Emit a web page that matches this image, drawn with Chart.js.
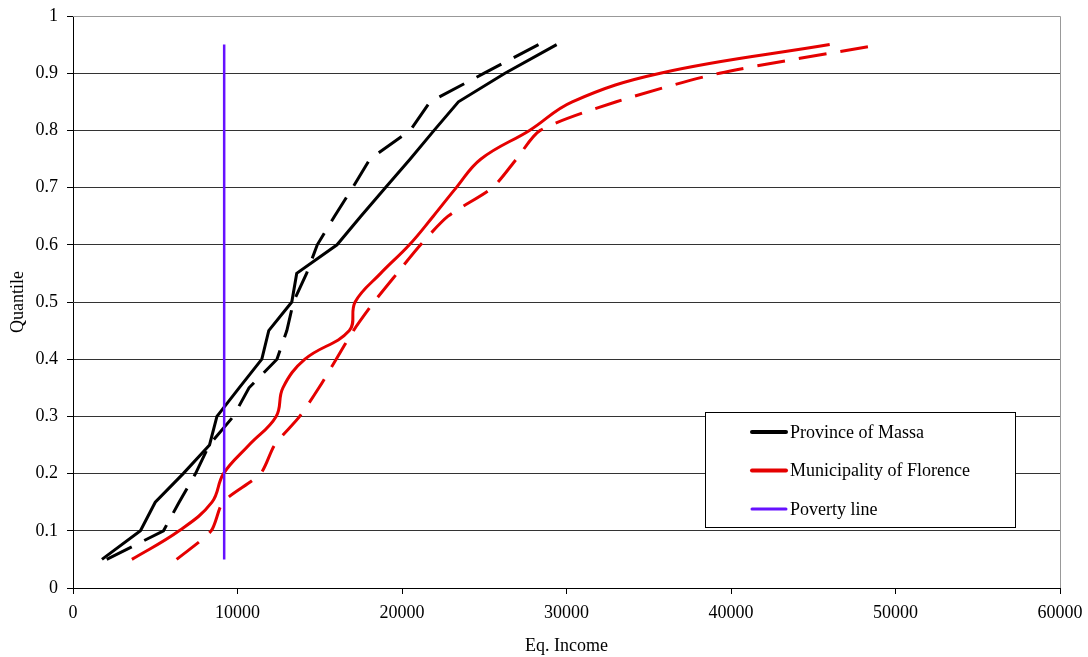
<!DOCTYPE html>
<html>
<head>
<meta charset="utf-8">
<script src="https://cdn.jsdelivr.net/npm/chart.js@4.4.1/dist/chart.umd.min.js"></script>
<style>
  html, body { margin: 0; padding: 0; background: #fff; }
  #wrap { width: 1088px; height: 657px; }
</style>
</head>
<body>
<div id="wrap"><canvas id="chart" width="1088" height="657"></canvas></div>
<script>
// quantile levels (y) shared by all four curves
const quantiles = [0.05, 0.10, 0.15, 0.20, 0.25, 0.30, 0.35, 0.40, 0.45, 0.50,
                   0.55, 0.60, 0.65, 0.70, 0.75, 0.80, 0.85, 0.90, 0.95];

// equivalent income at each quantile
const massaSolid     = [1760, 4100, 5000, 6700, 8300, 8750, 10100, 11480, 11900, 13300,
                        13600, 16050, 17500, 19000, 20500, 21950, 23430, 26260, 29400];
const massaDashed    = [2050, 5500, 6450, 7450, 8280, 9750, 10700, 12400, 13000, 13400,
                        14200, 14850, 15900, 17000, 18050, 20500, 21700, 25000, 28300];
const florenceSolid  = [3580, 6450, 8450, 9150, 10700, 12350, 12760, 14100, 16800, 17150,
                        18700, 20450, 21900, 23300, 24800, 27750, 30350, 35700, 46000];
const florenceDashed = [6300, 8400, 9120, 11400, 12260, 13780, 14950, 16000, 17050, 18300,
                        19700, 21130, 22800, 25500, 26960, 28400, 33030, 39300, 49100];

const povertyIncome = [9190, 9190];
const povertyQuant  = [0.05, 0.95];

const legendLabels = ['Province of Massa', 'Municipality of Florence', 'Poverty line'];
const legendColors = ['#000000', '#e50000', '#6611ff'];

const FONT = '"Liberation Serif", "Times New Roman", serif';
const FSIZE = 18;

function toPoints(xs, ys) {
    return xs.map((x, i) => ({ x: x, y: ys[i] }));
}

// drop the label overhang so layout padding alone sets the plot box
function noOverhang(scale) {
    scale.paddingTop = 0;
    scale.paddingBottom = 0;
    scale.paddingLeft = 0;
    scale.paddingRight = 0;
}

// plot frame (grey top/right) and the boxed legend inside the plot
const frameAndLegend = {
    id: 'frameAndLegend',
    afterDatasetsDraw(chart) {
        const ctx = chart.ctx;
        const a = chart.chartArea;
        ctx.save();
        ctx.strokeStyle = '#999';
        ctx.lineWidth = 1;
        ctx.beginPath();
        ctx.moveTo(a.left, Math.round(a.top) + 0.5);
        ctx.lineTo(Math.round(a.right) + 0.5, Math.round(a.top) + 0.5);
        ctx.lineTo(Math.round(a.right) + 0.5, a.bottom);
        ctx.stroke();

        const bx = 705.5, by = 412.5, bw = 310, bh = 115;
        ctx.fillStyle = '#fff';
        ctx.fillRect(bx, by, bw, bh);
        ctx.strokeStyle = '#000';
        ctx.lineWidth = 1;
        ctx.strokeRect(bx, by, bw, bh);

        ctx.font = FSIZE + 'px ' + FONT;
        ctx.textBaseline = 'middle';
        ctx.textAlign = 'left';
        legendLabels.forEach((t, i) => {
            const y = 432 + i * 38.5;
            ctx.strokeStyle = legendColors[i];
            ctx.lineWidth = i === 2 ? 3 : 4;
            ctx.lineCap = 'round';
            ctx.beginPath();
            ctx.moveTo(752, y);
            ctx.lineTo(786, y);
            ctx.stroke();
            ctx.fillStyle = '#000';
            ctx.fillText(t, 790, y + 1);
        });
        ctx.restore();
    }
};

const lineBase = { showLine: true, pointRadius: 0, pointHoverRadius: 0, fill: false };

new Chart(document.getElementById('chart'), {
    type: 'scatter',
    data: {
        datasets: [
            Object.assign({}, lineBase, {
                label: 'Poverty line',
                data: toPoints(povertyIncome, povertyQuant),
                borderColor: '#6611ff', borderWidth: 2.5
            }),
            Object.assign({}, lineBase, {
                label: 'Province of Massa',
                data: toPoints(massaSolid, quantiles),
                borderColor: '#000', borderWidth: 3, tension: 0
            }),
            Object.assign({}, lineBase, {
                label: 'Province of Massa (dashed)',
                data: toPoints(massaDashed, quantiles),
                borderColor: '#000', borderWidth: 3, borderDash: [28, 14], tension: 0
            }),
            Object.assign({}, lineBase, {
                label: 'Municipality of Florence',
                data: toPoints(florenceSolid, quantiles),
                borderColor: '#e50000', borderWidth: 3, tension: 0.4
            }),
            Object.assign({}, lineBase, {
                label: 'Municipality of Florence (dashed)',
                data: toPoints(florenceDashed, quantiles),
                borderColor: '#e50000', borderWidth: 3, borderDash: [28, 14], tension: 0.25
            })
        ]
    },
    options: {
        responsive: false,
        animation: false,
        devicePixelRatio: 1,
        layout: { padding: { top: 16, right: 28, left: 0, bottom: 0 } },
        plugins: { legend: { display: false }, tooltip: { enabled: false } },
        scales: {
            x: {
                type: 'linear', min: 0, max: 60000,
                ticks: {
                    stepSize: 10000, color: '#000', font: { family: FONT, size: FSIZE }, padding: 8, maxRotation: 0,
                    callback: v => String(v)
                },
                grid: { drawOnChartArea: false, drawTicks: true, tickLength: 6, color: '#000' },
                border: { color: '#000', width: 1 },
                title: { display: true, text: 'Eq. Income', color: '#000', font: { family: FONT, size: FSIZE }, padding: { top: 4, bottom: 0 } },
                afterFit(scale) { scale.height = 69; noOverhang(scale); }
            },
            y: {
                type: 'linear', min: 0, max: 1,
                ticks: {
                    stepSize: 0.1, color: '#000', font: { family: FONT, size: FSIZE }, padding: 9,
                    callback: v => String(+v.toFixed(1))
                },
                grid: {
                    color: c => (c.tick && c.tick.value === 1) ? '#999' : '#333',
                    tickColor: '#000', lineWidth: 1, drawTicks: true, tickLength: 6
                },
                border: { color: '#000', width: 1 },
                title: { display: true, text: 'Quantile', color: '#000', font: { family: FONT, size: FSIZE }, padding: { top: 7, bottom: 0 } },
                afterFit(scale) { scale.width = 73; noOverhang(scale); }
            }
        }
    },
    plugins: [frameAndLegend]
});
</script>
</body>
</html>
